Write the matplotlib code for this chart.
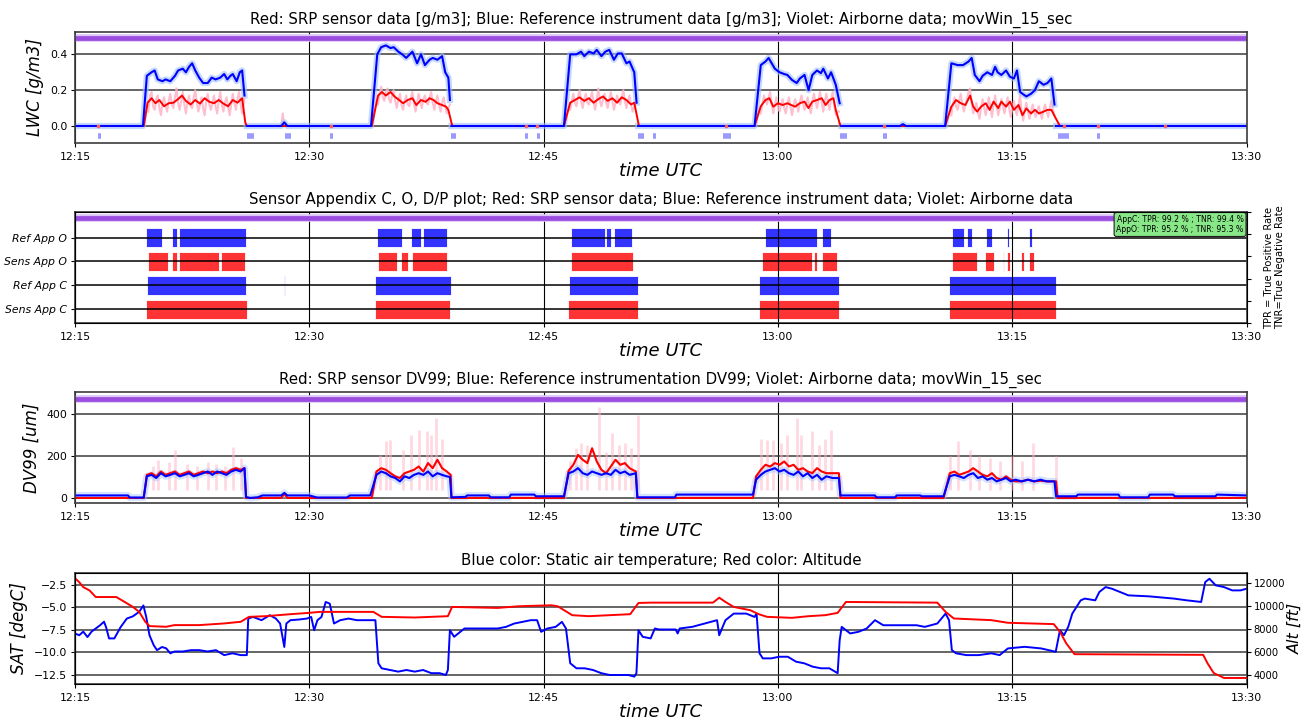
import numpy as np
import matplotlib.pyplot as plt

nan = np.nan

# time axis in minutes after 12:15 UTC
tick_min = [0, 15, 30, 45, 60, 75]
tick_lbl = ['12:15', '12:30', '12:45', '13:00', '13:15', '13:30']

# ---- LWC [g/m3] ----
lwc_ref_t = [0, 4.35, 4.6, 4.9, 5.1, 5.3, 5.6, 5.8, 6.1, 6.4, 6.6, 6.9, 7.1, 7.3, 7.5, 7.7, 7.95, 8.2, 8.5,
             8.75, 9.0, 9.3, 9.55, 9.75, 9.95, 10.1, 10.35, 10.55, 10.7, 10.85, 10.9, 11.0, 13.2, 13.4, 13.6,
             18.95, 19.35, 19.6, 19.9, 20.2, 20.4, 20.7, 20.95, 21.2, 21.6, 21.9, 22.15, 22.4, 22.7, 22.9,
             23.2, 23.5, 23.7, 23.9, 24.0, 24.05, 24.1, 31.3, 31.7, 32.1, 32.4, 32.6, 32.9, 33.2, 33.4,
             33.7, 33.95, 34.2, 34.5, 34.75, 35.0, 35.3, 35.5, 35.8, 35.95, 36.0, 36.05, 43.5, 43.9, 44.2,
             44.4, 44.6, 44.8, 45.1, 45.4, 45.6, 45.9, 46.2, 46.4, 46.7, 46.96, 47.2, 47.5, 47.75, 47.9,
             48.2, 48.4, 48.7, 48.95, 49.0, 49.05, 52.8, 53.0, 53.2, 55.7, 56.1, 56.5, 56.85, 57.2, 57.4,
             57.6, 57.9, 58.1, 58.4, 58.7, 58.9, 59.06, 59.3, 59.6, 59.85, 60.1, 60.3, 60.5, 60.65, 60.9,
             61.2, 61.45, 61.7, 62.0, 62.25, 62.5, 62.7, 62.75, 62.8, 75]
lwc_ref = [0, 0, 0.28, 0.30, 0.31, 0.26, 0.25, 0.26, 0.25, 0.28, 0.31, 0.32, 0.30, 0.33, 0.35, 0.31, 0.27,
           0.24, 0.24, 0.27, 0.26, 0.27, 0.29, 0.26, 0.28, 0.29, 0.25, 0.30, 0.31, 0.17, nan, 0, 0, 0.02, 0,
           0, 0.40, 0.44, 0.45, 0.435, 0.44, 0.415, 0.40, 0.38, 0.415, 0.35, 0.40, 0.34, 0.37, 0.38,
           0.37, 0.39, 0.30, 0.27, 0.145, nan, 0, 0, 0.40, 0.40, 0.415, 0.39, 0.415, 0.405, 0.425,
           0.39, 0.415, 0.425, 0.37, 0.405, 0.405, 0.35, 0.36, 0.30, 0.13, nan, 0, 0, 0.34, 0.36,
           0.38, 0.35, 0.32, 0.30, 0.29, 0.285, 0.257, 0.24, 0.265, 0.285, 0.20, 0.285, 0.31, 0.295, 0.32,
           0.265, 0.30, 0.23, 0.127, nan, 0, 0, 0.01, 0, 0, 0.35, 0.34, 0.34, 0.36, 0.38,
           0.285, 0.25, 0.28, 0.30, 0.285, 0.33, 0.30, 0.285, 0.31, 0.275, 0.265, 0.31, 0.19, 0.18, 0.165,
           0.18, 0.20, 0.25, 0.23, 0.24, 0.265, 0.12, nan, 0, 0]

lwc_srp_t = [0, 4.4, 4.65, 4.9, 5.15, 5.4, 5.7, 6.0, 6.3, 6.6, 6.85, 7.1, 7.4, 7.7, 8.0, 8.3, 8.6, 8.9, 9.2,
             9.5, 9.8, 10.1, 10.4, 10.7, 10.9, 11.0, 19.0, 19.4, 19.65, 19.9, 20.2, 20.45, 20.75, 21.0, 21.3,
             21.6, 21.85, 22.15, 22.45, 22.7, 22.95, 23.2, 23.5, 23.75, 23.9, 24.15, 31.3, 31.7, 32.0, 32.3,
             32.6, 32.9, 33.2, 33.5, 33.8, 34.1, 34.4, 34.7, 35.0, 35.3, 35.6, 35.8, 36.1, 43.5, 43.9, 44.2,
             44.45, 44.7, 45.0, 45.3, 45.6, 45.85, 46.1, 46.4, 46.7, 46.95, 47.2, 47.5, 47.8, 48.05, 48.3,
             48.55, 48.7, 49.0, 55.7, 56.1, 56.4, 56.7, 57.0, 57.3, 57.5, 57.75, 58.0, 58.3, 58.55, 58.8,
             59.1, 59.3, 59.6, 59.85, 60.1, 60.4, 60.65, 60.9, 61.2, 61.45, 61.7, 62.0, 62.25, 62.5, 62.8,
             63.05, 75]
lwc_srp = [0, 0, 0.13, 0.155, 0.127, 0.145, 0.11, 0.127, 0.13, 0.15, 0.17, 0.14, 0.12, 0.145, 0.125, 0.155,
           0.135, 0.127, 0.145, 0.125, 0.11, 0.145, 0.13, 0.155, 0.02, 0, 0, 0.17, 0.19, 0.17, 0.19, 0.165,
           0.145, 0.127, 0.145, 0.155, 0.117, 0.145, 0.135, 0.155, 0.145, 0.127, 0.117, 0.108, 0.09, 0, 0,
           0.13, 0.145, 0.16, 0.14, 0.155, 0.13, 0.15, 0.165, 0.14, 0.155, 0.13, 0.16, 0.145, 0.12, 0.13, 0,
           0, 0.11, 0.145, 0.155, 0.108, 0.127, 0.117, 0.127, 0.117, 0.108, 0.127, 0.136, 0.10, 0.136,
           0.145, 0.155, 0.117, 0.145, 0.155, 0.09, 0, 0, 0.108, 0.145, 0.127, 0.117, 0.17, 0.108, 0.08,
           0.108, 0.127, 0.09, 0.136, 0.10, 0.136, 0.108, 0.136, 0.09, 0.117, 0.06, 0.098, 0.07, 0.09, 0.07,
           0.08, 0.09, 0.09, 0.04, 0, 0]

# raw (unsmoothed) sensor LWC, pink
lwc_raw_t = [4.7, 4.8, 4.9, 5.0, 5.1, 5.2, 5.3, 5.4, 5.5, 5.6, 5.7, 5.8, 5.9, 6.0, 6.1, 6.2, 6.3, 6.4, 6.5,
             6.6, 6.7, 6.8, 6.9, 7.0, 7.1, 7.2, 7.3, 7.4, 7.5, 7.6, 7.7, 7.8, 7.9, 8.0, 8.1, 8.2, 8.3, 8.4,
             8.5, 8.6, 8.7, 8.8, 8.9, 9.0, 9.1, 9.2, 9.3, 9.4, 9.5, 9.6, 9.7, 9.8, 9.9, 10.0, 10.1, 10.2,
             10.3, 10.4, 10.5, 10.6, 10.7, 10.85, 10.9,
             13.2, 13.3, 13.4, 13.45,
             19.4, 19.5, 19.6, 19.7, 19.8, 19.9, 20.0, 20.1, 20.2, 20.3, 20.4, 20.5, 20.6, 20.7, 20.8, 20.9,
             21.0, 21.1, 21.2, 21.3, 21.4, 21.5, 21.6, 21.7, 21.8, 21.9, 22.0, 22.1, 22.2, 22.3, 22.4, 22.5,
             22.6, 22.7, 22.8, 22.9, 23.0, 23.1, 23.2, 23.3, 23.4, 23.5, 23.6, 23.7, 23.8, 23.9, 24.0, 24.05,
             31.7, 31.8, 31.9, 32.0, 32.1, 32.2, 32.3, 32.4, 32.5, 32.6, 32.7, 32.8, 32.9, 33.0, 33.1, 33.2,
             33.3, 33.4, 33.5, 33.6, 33.7, 33.8, 33.9, 34.0, 34.1, 34.2, 34.3, 34.4, 34.5, 34.6, 34.7, 34.8,
             34.9, 35.0, 35.1, 35.2, 35.3, 35.4, 35.5, 35.6, 35.7, 35.8, 35.9, 35.95,
             43.9, 44.0, 44.1, 44.2, 44.3, 44.4, 44.5, 44.6, 44.7, 44.8, 44.9, 45.0, 45.1, 45.2, 45.3, 45.4,
             45.5, 45.6, 45.7, 45.8, 45.9, 46.0, 46.1, 46.2, 46.3, 46.4, 46.5, 46.6, 46.7, 46.8, 46.9, 47.0,
             47.1, 47.2, 47.3, 47.4, 47.5, 47.6, 47.7, 47.8, 47.9, 48.0, 48.1, 48.2, 48.3, 48.4, 48.5, 48.6,
             48.7, 48.8, 48.9, 48.95,
             56.1, 56.2, 56.3, 56.4, 56.5, 56.6, 56.7, 56.8, 56.9, 57.0, 57.1, 57.2, 57.3, 57.4, 57.5, 57.6,
             57.7, 57.8, 57.9, 58.0, 58.1, 58.2, 58.3, 58.4, 58.5, 58.6, 58.7, 58.8, 58.9, 59.0, 59.1, 59.2,
             59.3, 59.4, 59.5, 59.6, 59.7, 59.8, 59.9, 60.0, 60.1, 60.2, 60.3, 60.4, 60.5, 60.6, 60.7, 60.8,
             60.9, 61.0, 61.1, 61.2, 61.3, 61.4, 61.5, 61.6, 61.7, 61.8, 61.9, 62.0, 62.1, 62.2, 62.3, 62.4,
             62.5, 62.6, 62.7]
lwc_raw = [0.08, 0.17, 0.19, 0.11, 0.09, 0.15, 0.17, 0.10, 0.06, 0.13, 0.16, 0.11, 0.08, 0.14, 0.18, 0.12,
           0.10, 0.16, 0.21, 0.13, 0.09, 0.14, 0.19, 0.12, 0.07, 0.13, 0.17, 0.11, 0.10, 0.16, 0.20, 0.13,
           0.08, 0.12, 0.16, 0.10, 0.06, 0.14, 0.18, 0.12, 0.09, 0.13, 0.17, 0.11, 0.07, 0.14, 0.19, 0.12,
           0.08, 0.13, 0.16, 0.11, 0.06, 0.12, 0.18, 0.13, 0.09, 0.15, 0.19, 0.12, 0.07, 0.15, nan,
           0.0, 0.07, 0.0, nan,
           0.12, 0.18, 0.22, 0.16, 0.14, 0.19, 0.21, 0.15, 0.13, 0.17, 0.20, 0.14, 0.10, 0.15, 0.18, 0.12,
           0.09, 0.14, 0.17, 0.12, 0.11, 0.16, 0.19, 0.13, 0.08, 0.13, 0.18, 0.14, 0.10, 0.15, 0.17, 0.13,
           0.12, 0.16, 0.19, 0.13, 0.09, 0.14, 0.17, 0.12, 0.08, 0.13, 0.16, 0.11, 0.07, 0.10, 0.12, nan,
           0.09, 0.14, 0.18, 0.13, 0.11, 0.16, 0.20, 0.14, 0.10, 0.15, 0.18, 0.13, 0.12, 0.16, 0.19, 0.13,
           0.09, 0.15, 0.21, 0.14, 0.11, 0.15, 0.18, 0.13, 0.10, 0.15, 0.19, 0.14, 0.09, 0.13, 0.17, 0.14,
           0.12, 0.16, 0.20, 0.14, 0.10, 0.14, 0.17, 0.12, 0.08, 0.11, 0.13, nan,
           0.07, 0.12, 0.17, 0.14, 0.12, 0.16, 0.19, 0.12, 0.07, 0.12, 0.16, 0.11, 0.08, 0.12, 0.15, 0.10,
           0.07, 0.12, 0.16, 0.11, 0.06, 0.11, 0.15, 0.12, 0.08, 0.13, 0.17, 0.13, 0.09, 0.12, 0.16, 0.11,
           0.07, 0.13, 0.18, 0.14, 0.10, 0.15, 0.19, 0.13, 0.08, 0.14, 0.18, 0.13, 0.09, 0.15, 0.19, 0.12,
           0.06, 0.08, 0.08, nan,
           0.06, 0.12, 0.16, 0.11, 0.09, 0.14, 0.18, 0.12, 0.08, 0.12, 0.15, 0.19, 0.21, 0.12, 0.07, 0.10,
           0.13, 0.08, 0.04, 0.10, 0.15, 0.10, 0.06, 0.11, 0.16, 0.10, 0.05, 0.12, 0.17, 0.11, 0.06, 0.10,
           0.15, 0.11, 0.07, 0.12, 0.16, 0.10, 0.05, 0.10, 0.14, 0.09, 0.06, 0.12, 0.17, 0.08, 0.03, 0.09,
           0.13, 0.08, 0.04, 0.08, 0.12, 0.08, 0.05, 0.09, 0.11, 0.07, 0.04, 0.09, 0.12, 0.08, 0.05, 0.10,
           0.14, 0.09, 0.06]

# reference-only marks below the zero line
flag_start = [1.45, 11.0, 13.45, 16.3, 24.1, 28.8, 29.55, 36.05, 37.0, 41.5, 48.95, 51.7, 62.9, 65.4]
flag_end = [1.65, 11.45, 13.85, 16.5, 24.4, 29.0, 29.75, 36.45, 37.2, 42.0, 49.4, 51.95, 63.6, 65.6]
srp_flag_t = [1.5, 16.4, 28.85, 29.6, 41.7, 51.8, 63.3, 65.5, 69.8]

# ---- Appendix C / O detection ----
row_lbl = ['Sens App C', 'Ref App C', 'Sens App O', 'Ref App O']
ref_o_start = [4.56, 6.23, 6.63, 19.36, 21.5, 22.3, 31.75, 34.0, 34.5, 44.19, 47.83, 56.15, 57.11, 58.33,
               59.65, 61.06]
ref_o_end = [5.57, 6.5, 10.95, 20.95, 22.15, 23.8, 33.9, 34.3, 35.65, 47.49, 48.41, 56.94, 57.43, 58.71,
             59.82, 61.27]
sens_o_start = [4.7, 6.23, 6.66, 9.34, 19.4, 20.85, 21.6, 31.75, 43.97, 47.28, 47.83, 56.15, 58.26, 59.4,
                59.65, 60.57, 61.06]
sens_o_end = [5.97, 6.55, 9.2, 10.9, 20.6, 21.3, 23.8, 35.75, 47.2, 47.51, 48.8, 57.75, 58.81, 59.45,
              59.85, 60.72, 61.42]
ref_c_start = [4.64, 13.38, 19.23, 31.64, 43.76, 55.94]
ref_c_end = [10.95, 13.45, 24.06, 36.07, 48.88, 62.8]
sens_c_start = [4.56, 19.18, 31.56, 43.76, 55.94]
sens_c_end = [10.98, 24.0, 36.02, 48.88, 62.8]
stats_txt = "AppC: TPR: 99.2 % ; TNR: 99.4 %\nAppO: TPR: 95.2 % ; TNR: 95.3 %"

# ---- DV99 [um] ----
dv_ref_t = [0, 3.4, 3.5, 4.4, 4.6, 4.9, 5.2, 5.5, 5.8, 6.1, 6.4, 6.7, 7.0, 7.3, 7.6, 7.9, 8.2, 8.5, 8.8, 9.1,
            9.4, 9.7, 10.0, 10.3, 10.6, 10.85, 10.95, 11.2, 11.7, 12.0, 13.2, 13.4, 13.6, 15.0, 15.5, 17.4,
            17.6, 18.9, 19.3, 19.6, 19.9, 20.2, 20.5, 20.8, 21.1, 21.4, 21.7, 22.0, 22.3, 22.6, 22.9, 23.2,
            23.5, 23.8, 24.0, 24.1, 25.0, 25.1, 26.5, 26.6, 27.8, 27.9, 29.4, 29.5, 31.3, 31.6, 31.9, 32.2,
            32.5, 32.8, 33.1, 33.4, 33.7, 34.0, 34.3, 34.6, 34.9, 35.2, 35.5, 35.9, 36.0, 38.4, 38.5, 43.4,
            43.6, 43.9, 44.2, 44.5, 44.8, 45.1, 45.4, 45.7, 46.0, 46.3, 46.6, 46.9, 47.2, 47.5, 47.8, 48.1,
            48.5, 48.9, 49.0, 51.2, 51.3, 52.5, 52.6, 54.1, 54.2, 55.6, 56.0, 56.3, 56.6, 56.9, 57.2, 57.5,
            57.8, 58.1, 58.4, 58.7, 59.0, 59.3, 59.6, 59.9, 60.2, 60.6, 61.0, 61.4, 61.8, 62.2, 62.7, 62.8,
            64.1, 64.2, 66.8, 66.9, 68.7, 68.8, 70.3, 70.4, 73.0, 73.1, 75]
dv_ref = [12, 12, 2, 2, 103, 110, 95, 118, 103, 110, 118, 103, 110, 118, 103, 110, 118, 126, 110, 126,
          118, 110, 126, 134, 126, 142, 5, 0, 3, 12, 12, 24, 12, 12, 2, 2,
          12, 12, 110, 126, 118, 103, 95, 79, 103, 95, 110, 118, 110, 126, 103, 118,
          110, 103, 100, 3, 5, 12, 12, 3, 3, 16, 16, 8, 8, 118, 126, 142,
          118, 110, 126, 118, 110, 118, 110, 134, 118, 126, 110, 118, 3, 3, 16, 16,
          87, 110, 126, 134, 142, 126, 134, 118, 110, 126, 103, 118, 95, 110, 87, 103,
          95, 95, 12, 12, 3, 3, 12, 12, 8, 8, 103, 110, 103, 95, 110, 118,
          95, 103, 87, 95, 79, 87, 95, 79, 87, 79, 87, 79, 87, 79, 79, 8,
          8, 16, 16, 3, 3, 16, 16, 8, 8, 16, 12]

dv_srp_t = [0, 4.4, 4.6, 4.9, 5.2, 5.5, 5.8, 6.1, 6.4, 6.7, 7.0, 7.3, 7.6, 7.9, 8.2, 8.5, 8.8, 9.1, 9.4, 9.7,
            10.0, 10.3, 10.6, 10.85, 10.95, 13.2, 13.4, 13.6, 19.0, 19.3, 19.6, 19.9, 20.2, 20.5, 20.8, 21.1,
            21.4, 21.7, 22.0, 22.3, 22.6, 22.9, 23.2, 23.5, 23.8, 24.05, 24.1, 31.3, 31.6, 31.9, 32.2, 32.5,
            32.8, 33.1, 33.4, 33.7, 34.0, 34.3, 34.6, 34.9, 35.2, 35.5, 35.9, 36.0, 43.4, 43.6, 43.9, 44.2,
            44.5, 44.8, 45.1, 45.4, 45.7, 46.0, 46.3, 46.6, 46.9, 47.2, 47.5, 47.8, 48.1, 48.5, 48.9, 49.0,
            55.6, 56.0, 56.3, 56.6, 56.9, 57.2, 57.5, 57.8, 58.1, 58.4, 58.7, 59.0, 59.3, 59.6, 59.9, 60.2,
            60.6, 61.0, 61.4, 61.8, 62.2, 62.8, 62.9, 75]
dv_srp = [0, 0, 110, 118, 103, 126, 110, 118, 126, 110, 118, 126, 110, 118, 126, 118, 126, 118, 126, 118,
          134, 142, 134, 142, 0, 0, 20, 0, 0, 126, 142, 134, 118, 103, 95, 118,
          126, 134, 150, 126, 166, 142, 182, 142, 126, 110, 0, 0, 130, 158, 205, 182,
          166, 237, 174, 134, 118, 150, 182, 158, 166, 142, 126, 0, 0, 103, 134, 158,
          150, 166, 158, 174, 150, 158, 134, 142, 126, 118, 142, 126, 118, 118, 118, 0,
          0, 118, 126, 110, 118, 126, 142, 126, 110, 103, 118, 95, 87, 103, 87, 79,
          79, 87, 79, 82, 79, 79, 0, 0]

# raw sensor DV99 spikes, pink
dv_spike_t = [5.0, 5.3, 6.0, 6.4, 7.2, 7.8, 8.5, 9.0, 9.6, 10.1, 10.6,
              19.5, 19.9, 20.15, 21.0, 21.5, 22.0, 22.55, 22.8, 23.1, 23.5,
              31.7, 32.1, 32.4, 32.8, 33.55, 34.0, 34.4, 34.8, 35.2, 35.6, 36.05,
              43.9, 44.3, 44.7, 45.2, 45.6, 46.2, 46.5, 47.2, 47.6, 48.0, 48.4,
              56.0, 56.5, 57.3, 57.9, 58.6, 59.2, 60.0, 60.6, 61.3, 62.8]
dv_spike = [150, 182, 170, 230, 160, 150, 170, 160, 150, 245, 190,
            205, 270, 277, 230, 300, 324, 320, 300, 380, 280,
            174, 237, 260, 250, 435, 220, 310, 250, 260, 240, 395,
            280, 277, 277, 260, 300, 380, 300, 320, 250, 280, 324,
            200, 270, 230, 200, 190, 175, 200, 174, 260, 198]

# ---- SAT [degC] and altitude [ft] ----
sat_t = [0, 0.27, 0.53, 0.8, 1.06, 1.33, 1.6, 1.86, 1.99, 2.18, 2.52, 2.92, 3.32, 3.71, 4.11, 4.38, 4.56,
         4.77, 5.04, 5.25, 5.57, 5.84, 6.1, 6.37, 6.9, 7.43, 7.96, 8.49, 9.02, 9.55, 10.08, 10.61, 11.0,
         11.09, 11.4, 11.94, 12.47, 12.86, 13.13, 13.4, 13.53, 13.79, 14.32, 14.85, 15.12, 15.31, 15.52,
         15.78, 16.05, 16.31, 16.58, 16.98, 17.51, 18.04, 18.57, 19.23, 19.42, 19.63, 20.16, 20.69, 21.22,
         21.75, 22.28, 22.81, 23.34, 23.74, 23.87, 24.0, 24.27, 24.54, 24.93, 25.99, 27.06, 27.59, 28.12,
         28.65, 29.18, 29.58, 29.84, 30.24, 30.77, 31.17, 31.43, 31.7, 32.1, 32.63, 33.16, 33.69, 34.22,
         34.75, 35.41, 35.81, 35.94, 36.07, 36.34, 36.85, 37.12, 37.38, 38.45, 38.58, 38.71, 39.51, 40.31,
         41.1, 41.24, 41.37, 41.64, 42.17, 42.97, 43.5, 43.63, 43.82, 44.03, 44.56, 45.09, 45.63, 46.16,
         46.69, 47.22, 47.75, 48.29, 48.82, 48.95, 49.08, 49.62, 50.15, 50.68, 51.21, 51.74, 52.81, 53.87,
         54.4, 55.2, 55.73, 55.95, 56.13, 56.4, 57.06, 57.86, 58.66, 59.19, 59.72, 60.79, 61.85, 62.78,
         63.05, 63.31, 63.58, 63.84, 64.38, 64.64, 65.31, 65.57, 65.97, 66.37, 66.9, 67.43, 68.76, 70.36,
         71.16, 72.09, 72.35, 72.62, 73.02, 73.55, 74.08, 74.61, 75]
sat = [-7.9, -8.1, -7.7, -8.3, -7.7, -7.35, -7.0, -6.6, -7.2, -8.45, -8.45, -7.2, -6.25, -6.0, -5.5, -4.8,
       -6.07, -8.1, -9.2, -9.75, -9.4, -9.55, -10.1, -9.9, -9.9, -9.75, -9.75, -9.9, -9.75, -10.3, -10.1,
       -10.3, -10.3, -6.25, -6.07, -6.43, -5.88, -6.25, -6.8, -9.4, -6.8, -6.43, -6.36, -6.25, -6.07, -7.54,
       -6.43, -6.07, -4.41, -4.6, -6.8, -6.43, -6.25, -6.43, -6.43, -6.43, -11.2, -11.76, -11.95, -12.13,
       -11.95, -12.13, -11.95, -12.3, -12.3, -12.5, -11.95, -7.54, -8.27, -7.9, -7.35, -7.35, -7.35, -7.17,
       -6.8, -6.62, -6.43, -6.43, -7.72, -7.35, -7.17, -6.62, -7.35, -11.2, -11.76, -11.76, -11.95, -12.3,
       -12.5, -12.5, -12.5, -12.68, -12.3, -7.54, -8.27, -8.45, -7.35, -7.46, -7.46, -7.9, -7.35, -7.17,
       -6.8, -6.43, -8.1, -7.54, -6.43, -5.7, -5.7, -6.07, -5.7, -10.1, -10.66, -10.66, -10.48, -10.48,
       -11.03, -11.21, -11.58, -11.76, -11.76, -12.3, -8.64, -7.17, -7.9, -7.72, -7.35, -6.43, -6.99, -6.99,
       -6.99, -7.17, -6.8, -5.7, -6.43, -9.74, -10.1, -10.3, -10.3, -10.1, -10.3, -9.56, -9.38, -9.56,
       -9.93, -7.54, -8.09, -7.17, -5.7, -4.23, -4.04, -4.23, -3.31, -2.76, -2.94, -3.31, -3.68, -3.79,
       -4.04, -4.23, -4.41, -2.21, -1.84, -2.57, -2.76, -3.13, -3.13, -2.94]

alt_t = [0, 0.27, 0.53, 0.93, 1.33, 2.65, 3.18, 3.71, 4.11, 4.5, 4.77, 5.84, 6.37, 7.96, 9.55, 10.61, 11.14,
         12.2, 13.79, 14.99, 15.65, 19.1, 19.63, 21.75, 23.87, 24.14, 27.06, 28.38, 30.5, 30.9, 31.83,
         32.89, 35.54, 36.07, 36.85, 40.84, 41.24, 41.64, 42.17, 43.23, 43.77, 44.3, 45.89, 46.96, 48.02,
         48.82, 49.35, 55.2, 55.73, 56.26, 58.66, 59.72, 62.65, 63.05, 63.45, 63.98, 72.22, 72.49, 72.89,
         73.55, 75]
alt = [12400, 12057, 11629, 11343, 10770, 10770, 10343, 9914, 9486, 8629, 8257, 8200, 8343, 8343, 8486,
       8629, 9057, 9114, 9286, 9400, 9486, 9486, 9057, 9000, 9114, 9914, 9829, 9971, 10057, 9971, 9200,
       9114, 9286, 10257, 10286, 10286, 10714, 10343, 9914, 9629, 9286, 9057, 8971, 9114, 9200,
       9400, 10343, 10286, 9486, 8914, 8771, 8543, 8429, 7771, 6771, 5829, 5771, 5057, 4200,
       3771, 3771]

violet = '#9b4de0'
bar_blue = (0.2, 0.2, 1.0)
bar_red = (1.0, 0.2, 0.2)


def style_time_axis(ax):
    ax.set_xlim(0, 75)
    ax.set_xticks(tick_min)
    ax.set_xticklabels(tick_lbl, fontsize=7.8)
    ax.tick_params(axis='y', labelsize=7.8, length=3, pad=2.5)
    ax.tick_params(axis='x', length=3)
    ax.set_xlabel('time UTC', fontsize=13, style='italic', labelpad=0)
    ax.grid(True, axis='y', color='#3c3c3c', lw=1.1)
    ax.grid(True, axis='x', color='k', lw=0.8)
    for s in ax.spines.values():
        s.set_color('#3c3c3c')
        s.set_linewidth(1.2)


def airborne_line(ax, y):
    ax.axhline(y, color='#dcc4f5', lw=5.5, zorder=2)
    ax.axhline(y, color=violet, lw=3.4, zorder=2.1)


fig = plt.figure(figsize=(13.04, 7.2), dpi=100)
left, width, height = 0.0575, 0.8985, 0.1542

# LWC panel
ax1 = fig.add_axes([left, 0.8014, width, height])
ax1.plot(lwc_raw_t, lwc_raw, color='#ffb3c6', lw=1.5, alpha=0.85)
ax1.plot(lwc_ref_t, lwc_ref, color='#9fbfff', lw=4.5, alpha=0.6)
ax1.plot(lwc_srp_t, lwc_srp, color='red', lw=1.4)
ax1.plot(lwc_ref_t, lwc_ref, color='blue', lw=1.5)
ax1.hlines([-0.055] * len(flag_start), flag_start, flag_end, color='#9a9aff', lw=4)
ax1.plot(srp_flag_t, [0] * len(srp_flag_t), 's', color='#ff6060', ms=1.8)
airborne_line(ax1, 0.49)
ax1.set_ylim(-0.095, 0.525)
ax1.set_yticks([0.0, 0.2, 0.4])
ax1.set_ylabel('LWC [g/m3]', fontsize=12, style='italic')
ax1.set_title('Red: SRP sensor data [g/m3]; Blue: Reference instrument data [g/m3]; '
              'Violet: Airborne data; movWin_15_sec', fontsize=10.8)
style_time_axis(ax1)

# Appendix C / O panel
ax2 = fig.add_axes([left, 0.5514, width, height])
rows = [(sens_c_start, sens_c_end, bar_red), (ref_c_start, ref_c_end, bar_blue),
        (sens_o_start, sens_o_end, bar_red), (ref_o_start, ref_o_end, bar_blue)]
for i, (st, en, col) in enumerate(rows):
    segs = [(s, e - s) for s, e in zip(st, en)]
    ax2.broken_barh(segs, (i + 1 - 0.4, 0.8), facecolor=col, edgecolor='white', lw=0.6)
airborne_line(ax2, 4.8)
ax2.set_ylim(0.42, 5.07)
ax2.set_yticks([1, 2, 3, 4])
ax2.set_yticklabels(row_lbl, fontsize=7.5, style='italic')
ax2.set_title('Sensor Appendix C, O, D/P plot; Red: SRP sensor data; Blue: Reference instrument data; '
              'Violet: Airborne data', fontsize=10.8)
style_time_axis(ax2)
ax2.grid(True, axis='y', color='k', lw=1.1)
ax2.text(0.9975, 0.975, stats_txt, transform=ax2.transAxes, ha='right', va='top', fontsize=5.6,
         bbox=dict(boxstyle='round,pad=0.3', fc='#88e888', ec='#202020', lw=0.8), zorder=5)
ax2r = ax2.twinx()
ax2r.set_ylim(0, 1)
ax2r.set_yticks([0, 0.2, 0.4, 0.6, 0.8, 1.0])
ax2r.set_yticklabels([])
ax2r.tick_params(axis='y', length=3)
ax2r.set_ylabel('TPR = True Positive Rate\nTNR=True Negative Rate', fontsize=7.2, labelpad=6)

# DV99 panel
ax3 = fig.add_axes([left, 0.3014, width, height])
ax3.vlines(dv_spike_t, 40, dv_spike, color='#ffb3c6', lw=2, alpha=0.5)
ax3.plot(dv_ref_t, dv_ref, color='#9fbfff', lw=5, alpha=0.45)
ax3.plot(dv_srp_t, dv_srp, color='red', lw=1.5)
ax3.plot(dv_ref_t, dv_ref, color='blue', lw=1.5)
airborne_line(ax3, 470)
ax3.set_ylim(-24, 505)
ax3.set_yticks([0, 200, 400])
ax3.set_ylabel('DV99 [um]', fontsize=12, style='italic')
ax3.set_title('Red: SRP sensor DV99; Blue: Reference instrumentation DV99; Violet: Airborne data; '
              'movWin_15_sec', fontsize=10.8)
style_time_axis(ax3)

# SAT / altitude panel
ax4 = fig.add_axes([left, 0.05, width, height])
ax4.plot(sat_t, sat, color='blue', lw=1.4)
ax4.set_ylim(-13.5, -1.2)
ax4.set_yticks([-12.5, -10.0, -7.5, -5.0, -2.5])
ax4.set_ylabel('SAT [degC]', fontsize=12, style='italic')
ax4.set_title('Blue color: Static air temperature; Red color: Altitude', fontsize=10.8)
style_time_axis(ax4)
ax4r = ax4.twinx()
ax4r.plot(alt_t, alt, color='red', lw=1.4)
ax4r.set_ylim(3250, 12850)
ax4r.set_yticks([4000, 6000, 8000, 10000, 12000])
ax4r.tick_params(axis='y', labelsize=7.2, length=3, pad=2)
ax4r.set_ylabel('Alt [ft]', fontsize=11.5, style='italic', labelpad=2)

fig.savefig('out.png', dpi=100)
